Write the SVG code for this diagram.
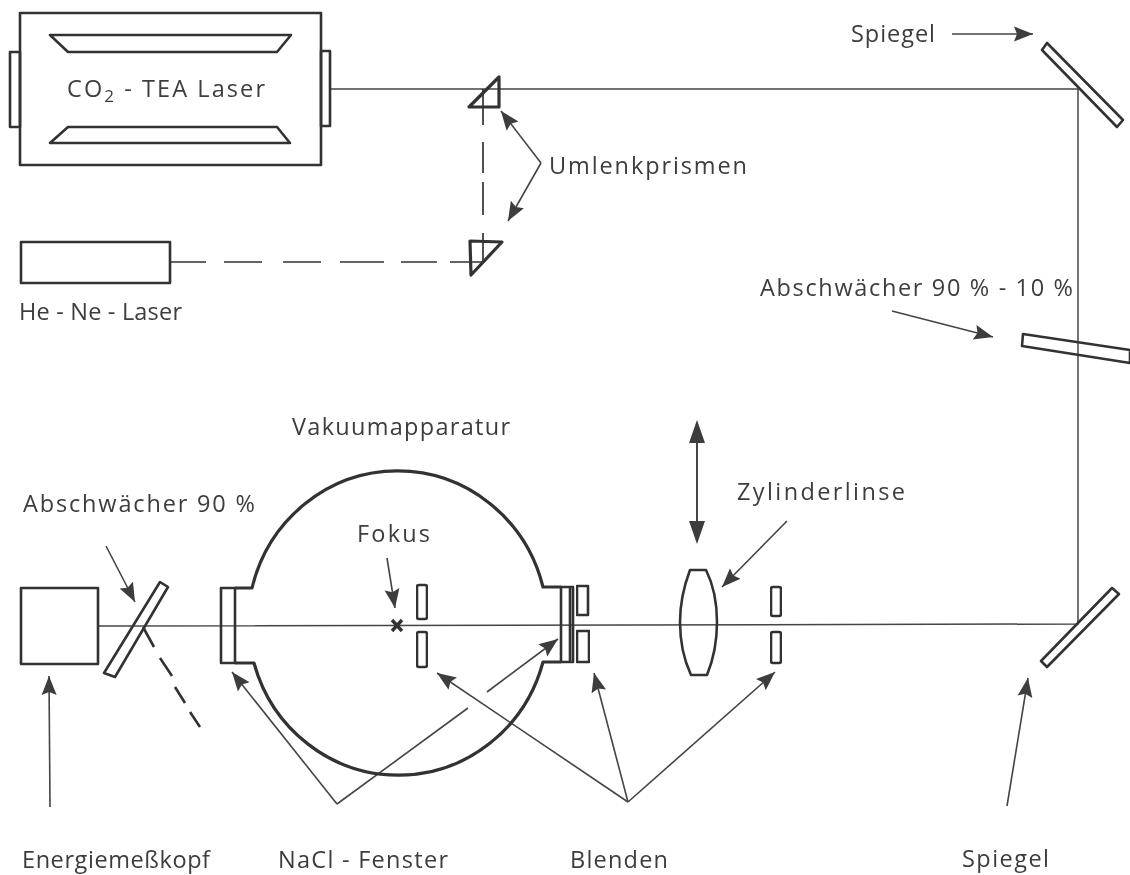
<svg xmlns="http://www.w3.org/2000/svg" width="1130" height="875" viewBox="0 0 1130 875">
<style>
svg>g{filter:url(#soft)}
.n{fill:none;stroke:#333;stroke-width:2.6;stroke-linejoin:round}
.m{fill:none;stroke:#333;stroke-width:3.2;stroke-linejoin:round}
.b{fill:none;stroke:#444;stroke-width:1.5}
.d{fill:none;stroke:#333;stroke-width:1.7}
.e{fill:none;stroke:#333;stroke-width:2.6}
.a{fill:none;stroke:#444;stroke-width:1.6}
.h{marker-end:url(#ah)}
text{font-family:"Open Sans","Liberation Sans",sans-serif;font-size:23.5px;fill:#3c3c3c;font-weight:400}
.s{font-size:17px}
</style>
<defs>
<filter id="soft" x="-5%" y="-5%" width="110%" height="110%"><feGaussianBlur stdDeviation="0.45"/></filter>
<marker id="ah" markerUnits="userSpaceOnUse" markerWidth="22" markerHeight="18" refX="19" refY="8" orient="auto"><path d="M0,0.5 L19,8 L0,15.5 L3,8 Z" fill="#3c3c3c"/></marker>
</defs>
<rect width="1130" height="875" fill="#fff"/>
<g id="connectors">
<path class="b" d="M330,89H1078V624L98,626"/>
<path class="d" d="M483,89V125M483,142V173M483,182V215M483,233V262M170,262H206M224,262H262M283,262H321M340,262H384M401,262H437M450,262H483"/>
<path class="e" d="M143,627L154,647M160,658L172,676M175,687L185,703M190,712L200,727"/>
<path class="a h" d="M541,163L501,111"/>
<path class="a h" d="M541,163L508,221"/>
<path class="a h" d="M952,34H1033"/>
<path class="a h" d="M892,311L993,337"/>
<path class="a h" d="M106,546L135,602"/>
<path class="a h" d="M387,558L395,608"/>
<path class="a h" d="M50,807L49,676"/>
<path class="a h" d="M787,521L722,587"/>
<path class="a h" d="M1007,806L1028,678"/>
<path class="a h" d="M337,804L232,672"/>
<path class="a" d="M337,804L468,708"/>
<path class="a h" d="M487,692L558,639"/>
<path class="a h" d="M628,802L437,673"/>
<path class="a h" d="M628,802L594,673"/>
<path class="a h" d="M628,802L775,672"/>
<path d="M697,436V528" class="a" style="stroke-width:2"/>
<path d="M697,420L705,443H689Z M697,544L705,521H689Z" fill="#3c3c3c"/>
</g>
<g id="co2-laser">
<rect class="n" x="20" y="13" width="301" height="152"/>
<rect class="n" x="10" y="52" width="10" height="75"/>
<rect class="n" x="321" y="51" width="9" height="75"/>
<path class="n" d="M50,35H291L277,52H68Z"/>
<path class="n" d="M68,127H277L290,143H50Z"/>
<text x="67" y="97" textLength="198">CO<tspan class="s" dy="5">2</tspan><tspan dy="-5"> - TEA Laser</tspan></text>
</g>
<g id="prism-top"><path class="m" d="M469,107L499,77V107Z"/></g>
<g id="prism-bottom"><path class="m" d="M470,241L502,242L471,275Z"/></g>
<g id="he-ne-laser">
<rect class="n" x="21" y="242" width="149" height="41"/>
<text x="19" y="320" textLength="163">He - Ne - Laser</text>
</g>
<g id="umlenkprismen"><text x="549" y="174" textLength="198">Umlenkprismen</text></g>
<g id="spiegel-top">
<path class="n" d="M1047,43L1042,50L1117,127L1123,120Z"/>
<text x="851" y="42" textLength="84">Spiegel</text>
</g>
<g id="abschwaecher-1">
<path class="n" d="M1023,334L1022,346L1130,363V350Z"/>
<text x="760" y="296" textLength="313">Abschwächer 90 % - 10 %</text>
</g>
<g id="spiegel-bottom">
<path class="n" d="M1112,588L1119,594L1047,667L1041,661Z"/>
<text x="962" y="867" textLength="87">Spiegel</text>
</g>
<g id="energiemesskopf">
<rect class="n" x="21" y="588" width="77" height="76"/>
<text x="22" y="868" textLength="188">Energiemeßkopf</text>
</g>
<g id="abschwaecher-2">
<path class="n" d="M160,582L168,587L115,677L104,673Z"/>
<text x="23" y="512" textLength="232">Abschwächer 90 %</text>
</g>
<g id="vakuumapparatur">
<path class="m" d="M235,588H252A150,154 0 0 1 543,587H561M235,663H254A150,154 0 0 0 543,662H561"/>
<path class="n" d="M221,588H235V663H221Z"/>
<path class="n" d="M561,587H573V662H561ZM570,587V662"/>
<text x="292" y="435" textLength="218">Vakuumapparatur</text>
</g>
<g id="fokus">
<path d="M392,620L402,631M402,620L392,631" stroke="#333" stroke-width="3.4" fill="none"/>
<text x="357" y="542" textLength="73">Fokus</text>
</g>
<g id="blende-1"><rect class="n" x="417" y="585" width="10" height="34" rx="2"/><rect class="n" x="417" y="632" width="10" height="35" rx="2"/></g>
<g id="blende-2"><rect class="n" x="577" y="586" width="11" height="29"/><rect class="n" x="577" y="631" width="12" height="31"/></g>
<g id="blende-3"><rect class="n" x="771" y="587" width="10" height="29" rx="2"/><rect class="n" x="771" y="632" width="10" height="31" rx="2"/></g>
<g id="zylinderlinse">
<path class="n" d="M690,570H706C714,586 717,605 717,622C717,640 714,658 707,675H691C684,660 680,640 680,622C680,604 684,586 690,570Z"/>
<text x="737" y="500" textLength="168">Zylinderlinse</text>
</g>
<g id="labels">
<text x="278" y="868" textLength="170">NaCl - Fenster</text>
<text x="570" y="868" textLength="98">Blenden</text>
</g>
</svg>
